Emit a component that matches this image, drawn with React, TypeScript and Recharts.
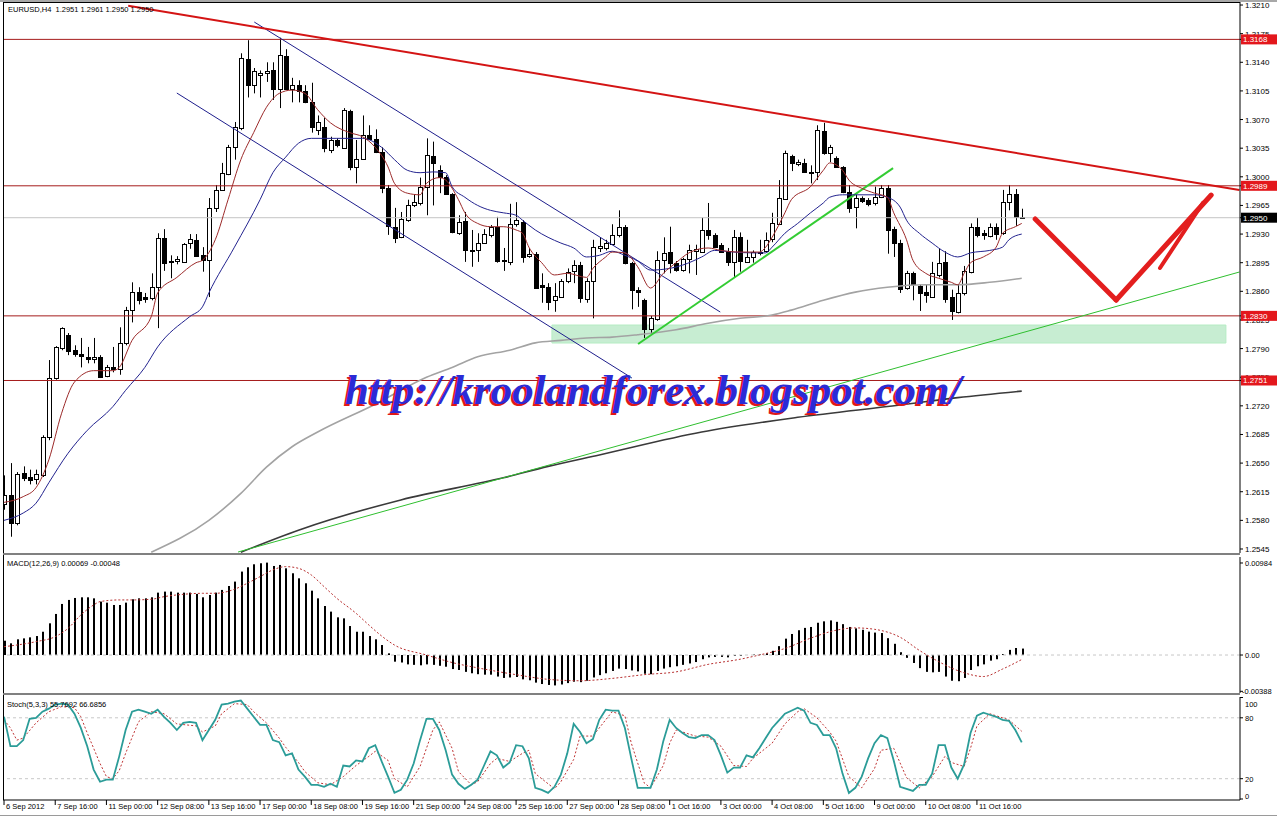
import React from "react";
import {
  ComposedChart,
  Bar,
  Line,
  XAxis,
  YAxis,
  ReferenceLine,
  ReferenceArea,
} from "recharts";

const FONT = "'Liberation Sans', Arial, sans-serif";

// bar labels on the time axis, one every 8 H4 bars
const timeLabels = [
  "6 Sep 2012", "7 Sep 16:00", "11 Sep 00:00", "12 Sep 08:00", "13 Sep 16:00",
  "17 Sep 00:00", "18 Sep 08:00", "19 Sep 16:00", "21 Sep 00:00", "24 Sep 08:00",
  "25 Sep 16:00", "27 Sep 00:00", "28 Sep 08:00", "1 Oct 16:00", "3 Oct 00:00",
  "4 Oct 08:00", "5 Oct 16:00", "9 Oct 00:00", "10 Oct 08:00", "11 Oct 16:00",
];
const timeTickBars = [0, 8, 16, 24, 32, 40, 48, 56, 64, 72, 80, 88, 96, 104, 112, 120, 128, 136, 144, 152];

const opens = [
  1.2600, 1.2611, 1.2577, 1.2638, 1.2633, 1.2631, 1.2635, 1.2682, 1.2754, 1.2791,
  1.2807, 1.2788, 1.2783, 1.2780, 1.2778, 1.2780, 1.2756, 1.2767, 1.2765, 1.2797,
  1.2837, 1.2859, 1.2853, 1.2852, 1.2865, 1.2925, 1.2896, 1.2896, 1.2896, 1.2919,
  1.2923, 1.2904, 1.2898, 1.2962, 1.2984, 1.3003, 1.3036, 1.3060, 1.3144, 1.3112,
  1.3124, 1.3126, 1.3130, 1.3107, 1.3148, 1.3107, 1.3112, 1.3105, 1.3091, 1.3057,
  1.3061, 1.3033, 1.3045, 1.3036, 1.3080, 1.3012, 1.3022, 1.3051, 1.3046, 1.3030,
  1.2986, 1.2939, 1.2926, 1.2947, 1.2965, 1.2968, 1.2988, 1.3025, 1.3008, 1.3000,
  1.2979, 1.2932, 1.2946, 1.2910, 1.2910, 1.2919, 1.2929, 1.2939, 1.2898, 1.2895,
  1.2942, 1.2945, 1.2903, 1.2906, 1.2868, 1.2865, 1.2849, 1.2854, 1.2873, 1.2885,
  1.2892, 1.2851, 1.2873, 1.2913, 1.2913, 1.2918, 1.2929, 1.2939, 1.2895, 1.2862,
  1.2849, 1.2813, 1.2826, 1.2898, 1.2908, 1.2895, 1.2885, 1.2899, 1.2909, 1.2908,
  1.2935, 1.2929, 1.2917, 1.2909, 1.2896, 1.2926, 1.2896, 1.2902, 1.2908, 1.2910,
  1.2923, 1.2942, 1.2973, 1.3025, 1.3016, 1.3017, 1.3006, 1.3006, 1.3056, 1.3029,
  1.3023, 1.3012, 1.2981, 1.2963, 1.2974, 1.2972, 1.2968, 1.2975, 1.2986, 1.2936,
  1.2919, 1.2864, 1.2882, 1.2866, 1.2859, 1.2853, 1.2880, 1.2896, 1.2853, 1.2835,
  1.2858, 1.2884, 1.2939, 1.2931, 1.2928, 1.2939, 1.2931, 1.2969, 1.2979, 1.2951,
];
const highs = [
  1.2635, 1.2650, 1.2639, 1.2646, 1.2642, 1.2642, 1.2684, 1.2776, 1.2793, 1.2816,
  1.2809, 1.2794, 1.2803, 1.2792, 1.2803, 1.2782, 1.2770, 1.2792, 1.2816, 1.2841,
  1.2871, 1.2865, 1.2858, 1.2882, 1.2931, 1.2936, 1.2904, 1.2903, 1.2919, 1.2930,
  1.2930, 1.2914, 1.2974, 1.2990, 1.3017, 1.3039, 1.3067, 1.3151, 1.3167, 1.3133,
  1.3130, 1.3140, 1.3140, 1.3170, 1.3156, 1.3121, 1.3118, 1.3112, 1.3115, 1.3075,
  1.3072, 1.3049, 1.3047, 1.3084, 1.3082, 1.3045, 1.3075, 1.3063, 1.3058, 1.3036,
  1.2990, 1.2962, 1.2957, 1.2972, 1.2978, 1.2999, 1.3047, 1.3043, 1.3014, 1.3002,
  1.2980, 1.2953, 1.2957, 1.2935, 1.2931, 1.2936, 1.2941, 1.2951, 1.2913, 1.2967,
  1.2969, 1.2947, 1.2913, 1.2908, 1.2882, 1.2870, 1.2870, 1.2875, 1.2888, 1.2898,
  1.2896, 1.2876, 1.2923, 1.2926, 1.2923, 1.2942, 1.2959, 1.2941, 1.2896, 1.2865,
  1.2851, 1.2830, 1.2909, 1.2926, 1.2939, 1.2897, 1.2901, 1.2917, 1.2917, 1.2950,
  1.2968, 1.2931, 1.2919, 1.2913, 1.2935, 1.2932, 1.2923, 1.2910, 1.2923, 1.2932,
  1.2956, 1.2996, 1.3032, 1.3027, 1.3021, 1.3022, 1.3014, 1.3063, 1.3066, 1.3039,
  1.3025, 1.3013, 1.2990, 1.2978, 1.2976, 1.2974, 1.2988, 1.2990, 1.2990, 1.2939,
  1.2923, 1.2885, 1.2884, 1.2868, 1.2868, 1.2896, 1.2912, 1.2909, 1.2862, 1.2868,
  1.2891, 1.2943, 1.2950, 1.2935, 1.2943, 1.2943, 1.2984, 1.2990, 1.2985, 1.2961,
];
const lows = [
  1.2593, 1.2560, 1.2574, 1.2628, 1.2624, 1.2624, 1.2633, 1.2678, 1.2752, 1.2788,
  1.2782, 1.2780, 1.2767, 1.2772, 1.2772, 1.2754, 1.2755, 1.2761, 1.2758, 1.2794,
  1.2822, 1.2844, 1.2846, 1.2849, 1.2815, 1.2885, 1.2876, 1.2893, 1.2895, 1.2912,
  1.2902, 1.2884, 1.2853, 1.2957, 1.2984, 1.3002, 1.3021, 1.3057, 1.3097, 1.3102,
  1.3097, 1.3116, 1.3094, 1.3084, 1.3106, 1.3091, 1.3091, 1.3090, 1.3054, 1.3051,
  1.3030, 1.3029, 1.3036, 1.3035, 1.3008, 1.2992, 1.3021, 1.3045, 1.3029, 1.2980,
  1.2929, 1.2919, 1.2925, 1.2945, 1.2963, 1.2965, 1.2953, 1.2965, 1.2980, 1.2978,
  1.2931, 1.2929, 1.2896, 1.2890, 1.2896, 1.2918, 1.2926, 1.2895, 1.2885, 1.2892,
  1.2939, 1.2895, 1.2901, 1.2864, 1.2846, 1.2837, 1.2835, 1.2854, 1.2870, 1.2870,
  1.2846, 1.2846, 1.2827, 1.2908, 1.2910, 1.2917, 1.2926, 1.2893, 1.2838, 1.2841,
  1.2803, 1.2807, 1.2824, 1.2882, 1.2882, 1.2884, 1.2884, 1.2882, 1.2880, 1.2907,
  1.2923, 1.2913, 1.2908, 1.2891, 1.2877, 1.2884, 1.2895, 1.2895, 1.2904, 1.2908,
  1.2920, 1.2941, 1.2972, 1.3007, 1.3013, 1.3005, 1.2992, 1.2996, 1.3027, 1.3018,
  1.3011, 1.2980, 1.2956, 1.2937, 1.2968, 1.2964, 1.2965, 1.2974, 1.2906, 1.2902,
  1.2858, 1.2862, 1.2849, 1.2836, 1.2846, 1.2852, 1.2877, 1.2846, 1.2825, 1.2833,
  1.2855, 1.2882, 1.2926, 1.2923, 1.2926, 1.2923, 1.2929, 1.2959, 1.2940, 1.2950,
];
const closes = [
  1.2611, 1.2577, 1.2637, 1.2632, 1.2629, 1.2637, 1.2682, 1.2754, 1.2792, 1.2815,
  1.2788, 1.2783, 1.2780, 1.2778, 1.2780, 1.2756, 1.2767, 1.2764, 1.2797, 1.2837,
  1.2859, 1.2849, 1.2851, 1.2865, 1.2925, 1.2895, 1.2897, 1.2899, 1.2918, 1.2924,
  1.2904, 1.2898, 1.2962, 1.2984, 1.3005, 1.3036, 1.3061, 1.3145, 1.3112, 1.3129,
  1.3127, 1.3129, 1.3107, 1.3149, 1.3108, 1.3112, 1.3105, 1.3091, 1.3060, 1.3067,
  1.3035, 1.3045, 1.3039, 1.3082, 1.3012, 1.3022, 1.3051, 1.3046, 1.3030, 1.2986,
  1.2939, 1.2926, 1.2948, 1.2965, 1.2969, 1.2988, 1.3027, 1.3017, 1.3000, 1.2979,
  1.2932, 1.2945, 1.2910, 1.2909, 1.2919, 1.2930, 1.2939, 1.2898, 1.2897, 1.2942,
  1.2947, 1.2902, 1.2906, 1.2865, 1.2865, 1.2847, 1.2854, 1.2873, 1.2884, 1.2892,
  1.2852, 1.2873, 1.2914, 1.2915, 1.2919, 1.2929, 1.2939, 1.2895, 1.2862, 1.2859,
  1.2814, 1.2827, 1.2898, 1.2907, 1.2895, 1.2886, 1.2899, 1.2910, 1.2912, 1.2935,
  1.2929, 1.2914, 1.2909, 1.2896, 1.2926, 1.2897, 1.2902, 1.2908, 1.2907, 1.2923,
  1.2943, 1.2974, 1.3029, 1.3017, 1.3018, 1.3006, 1.3005, 1.3057, 1.3029, 1.3036,
  1.3012, 1.2981, 1.2962, 1.2974, 1.2970, 1.2967, 1.2975, 1.2986, 1.2935, 1.2919,
  1.2863, 1.2882, 1.2868, 1.2858, 1.2855, 1.2882, 1.2895, 1.2851, 1.2836, 1.2858,
  1.2885, 1.2939, 1.2929, 1.2929, 1.2939, 1.2931, 1.2969, 1.2979, 1.2951, 1.2950,
];

// moving averages, read at the bars where they could be measured [bar, price]
const maFastPts: [number, number][] = [
  [0, 1.2602], [3, 1.2609], [5, 1.262], [7, 1.2654], [9, 1.2711], [11, 1.2749], [14, 1.2763],
  [17, 1.2763], [18, 1.2767], [20, 1.28], [23, 1.2829], [24, 1.2858], [27, 1.2877], [30, 1.2895],
  [31, 1.2898], [33, 1.2923], [35, 1.2972], [37, 1.3021], [39, 1.3054], [41, 1.3085], [43, 1.3102],
  [45, 1.3106], [47, 1.3102], [49, 1.3082], [51, 1.3066], [54, 1.3054], [56, 1.3049], [58, 1.3036],
  [60, 1.3012], [61, 1.2992], [63, 1.298], [65, 1.2978], [66, 1.2992], [68, 1.2999], [69, 1.2996],
  [71, 1.2972], [72, 1.2956], [74, 1.2943], [76, 1.2939], [78, 1.2939], [80, 1.2935], [81, 1.2931],
  [82, 1.2914], [84, 1.2895], [86, 1.288], [88, 1.2882], [91, 1.2877], [92, 1.2888], [94, 1.2902],
  [95, 1.2908], [97, 1.2907], [99, 1.289], [101, 1.2864], [103, 1.2882], [105, 1.2895], [107, 1.2907],
  [110, 1.2913], [112, 1.291], [115, 1.2908], [118, 1.2908], [119, 1.2914], [120, 1.2926], [122, 1.2956],
  [123, 1.2972], [126, 1.2988], [128, 1.3008], [129, 1.3017], [131, 1.3008], [132, 1.2996], [134, 1.2986],
  [136, 1.298], [138, 1.2975], [139, 1.2956], [141, 1.2923], [142, 1.2898], [144, 1.2882], [146, 1.2876],
  [148, 1.2871], [149, 1.2868], [150, 1.2882], [151, 1.2895], [153, 1.2902], [155, 1.2914], [156, 1.2931],
  [158, 1.2939], [159, 1.2943],
];
const maMidPts: [number, number][] = [
  [0, 1.258], [3, 1.2589], [5, 1.2601], [7, 1.2626], [10, 1.2662], [13, 1.269], [17, 1.2719],
  [19, 1.2739], [22, 1.2767], [24, 1.2792], [29, 1.2829], [31, 1.2841], [32, 1.2858], [36, 1.2914],
  [40, 1.2972], [42, 1.3005], [44, 1.3024], [46, 1.3041], [48, 1.3047], [52, 1.3047], [56, 1.3047],
  [59, 1.3036], [61, 1.3021], [63, 1.3008], [65, 1.3005], [67, 1.3006], [69, 1.3005], [70, 1.2988],
  [72, 1.2975], [74, 1.2965], [76, 1.2959], [78, 1.2956], [80, 1.2953], [81, 1.2947], [83, 1.2935],
  [85, 1.2926], [87, 1.2919], [89, 1.2913], [91, 1.2902], [93, 1.2904], [95, 1.2909], [97, 1.2904],
  [99, 1.2897], [101, 1.2886], [104, 1.2888], [106, 1.2892], [109, 1.2902], [111, 1.291], [114, 1.2908],
  [117, 1.2907], [119, 1.2907], [120, 1.2914], [122, 1.2931], [124, 1.2943], [126, 1.2956], [128, 1.2968],
  [129, 1.2975], [131, 1.2978], [133, 1.2978], [136, 1.2978], [138, 1.2975], [140, 1.2963], [141, 1.2947],
  [143, 1.2931], [145, 1.2919], [147, 1.2908], [149, 1.2902], [151, 1.2907], [154, 1.291], [156, 1.2914],
  [157, 1.2923], [159, 1.293],
];
const maSlowPts: [number, number][] = [
  [23, 1.2541], [32, 1.258], [37, 1.2613], [41, 1.2645], [45, 1.267], [49, 1.2688], [58, 1.2722],
  [66, 1.2755], [70, 1.2767], [74, 1.278], [79, 1.2788], [83, 1.2797], [87, 1.28], [91, 1.2803],
  [95, 1.2804], [99, 1.2807], [105, 1.2813], [110, 1.2821], [115, 1.2827], [120, 1.2831], [123, 1.2837],
  [128, 1.2849], [133, 1.2859], [138, 1.2865], [144, 1.2868], [149, 1.2868], [154, 1.2871], [159, 1.2876],
];
const maLongPts: [number, number][] = [
  [37, 1.2541], [46, 1.2568], [62, 1.2605], [78, 1.2632], [85, 1.2646], [93, 1.266], [109, 1.2688],
  [124, 1.2706], [140, 1.2721], [149, 1.273], [159, 1.2738],
];

const macdHist = [
  0.00153, 0.00125, 0.00168, 0.00178, 0.00189, 0.00203, 0.00249, 0.00339, 0.00439, 0.00546,
  0.00589, 0.0061, 0.00617, 0.00617, 0.00606, 0.00571, 0.0056, 0.00535, 0.00535, 0.0056,
  0.00596, 0.00606, 0.00606, 0.00617, 0.00667, 0.00678, 0.00678, 0.00667, 0.00667, 0.00667,
  0.00653, 0.00617, 0.00642, 0.00667, 0.00696, 0.00738, 0.00785, 0.00892, 0.00938, 0.0097,
  0.00981, 0.00988, 0.00952, 0.00963, 0.00927, 0.00874, 0.0082, 0.00767, 0.00688, 0.00606,
  0.00524, 0.00464, 0.00403, 0.00392, 0.0031, 0.00249, 0.00249, 0.00203, 0.00168, 0.00107,
  0.00018, -0.00071, -0.0008, -0.001, -0.00105, -0.0011, -0.001, -0.00105, -0.00115, -0.00125,
  -0.0015, -0.0016, -0.0018, -0.00195, -0.00205, -0.0021, -0.0021, -0.0023, -0.00245, -0.0024,
  -0.00235, -0.0026, -0.0027, -0.00295, -0.0031, -0.0032, -0.00325, -0.00315, -0.003, -0.00285,
  -0.0029, -0.00275, -0.0024, -0.00215, -0.00195, -0.0017, -0.00145, -0.0015, -0.00165, -0.00175,
  -0.002, -0.00205, -0.0017, -0.00145, -0.0013, -0.0012, -0.00105, -0.0009, -0.00075, -0.00045,
  -0.00025, -0.0002, -0.0002, -0.00025, -0.0001, -0.0001, 0.0, 0.00005, 0.00005, 0.0002,
  0.00045, 0.00095, 0.00175, 0.00225, 0.00265, 0.0029, 0.003, 0.00345, 0.0036, 0.0037,
  0.00355, 0.0033, 0.003, 0.00285, 0.0027, 0.0025, 0.0024, 0.00235, 0.0018, 0.0012,
  0.0003, -0.0003, -0.00085, -0.0014, -0.0018, -0.00185, -0.0018, -0.0023, -0.00275, -0.0028,
  -0.00245, -0.0016, -0.0012, -0.001, -0.0006, -0.00045, 0.0001, 0.00055, 0.00075, 0.00069,
];
const macdSignalPts: [number, number][] = [
  [0, 0.00089], [5, 0.00143], [8, 0.00196], [10, 0.00285], [12, 0.00428], [14, 0.00535], [15, 0.00571],
  [18, 0.00589], [20, 0.00589], [23, 0.00596], [25, 0.00624], [28, 0.00649], [31, 0.0066], [33, 0.0066],
  [36, 0.00703], [38, 0.00767], [40, 0.00838], [42, 0.0091], [44, 0.00945], [46, 0.00927], [48, 0.00856],
  [50, 0.00731], [52, 0.00606], [55, 0.00446], [57, 0.00321], [59, 0.00203], [61, 0.00107], [66, 0.0],
  [70, -0.0008], [75, -0.0015], [80, -0.0021], [85, -0.0026], [90, -0.00275], [95, -0.0025], [100, -0.0021],
  [105, -0.0018], [110, -0.001], [115, -0.00045], [118, 0.0], [122, 0.0007], [126, 0.0018], [130, 0.00265],
  [133, 0.0029], [136, 0.00275], [140, 0.0019], [143, 0.0005], [146, -0.0007], [150, -0.0019],
  [153, -0.0023], [156, -0.0015], [159, -0.00048],
];

const stochK = [
  81, 52, 52, 58, 79, 80, 86, 89, 93, 94,
  93, 84, 70, 52, 29, 17, 19, 19, 42, 68,
  86, 88, 86, 84, 88, 81, 75, 68, 75, 76,
  75, 58, 68, 78, 93, 94, 96, 97, 89, 81,
  73, 73, 58, 56, 43, 45, 29, 22, 14, 14,
  12, 15, 12, 33, 32, 38, 37, 50, 53, 37,
  22, 6, 9, 19, 35, 58, 79, 79, 68, 48,
  24, 15, 10, 14, 19, 33, 47, 43, 31, 36,
  53, 52, 40, 11, 9, 6, 12, 24, 45, 74,
  66, 55, 59, 78, 88, 87, 87, 70, 40, 11,
  11, 11, 29, 57, 78, 70, 65, 61, 60, 63,
  63, 58, 43, 26, 31, 31, 43, 41, 50, 60,
  70, 77, 84, 87, 90, 87, 75, 73, 63, 63,
  50, 25, 6, 11, 22, 40, 55, 63, 60, 38,
  12, 10, 8, 14, 14, 25, 53, 53, 31, 20,
  34, 65, 82, 85, 83, 81, 78, 77, 68, 55.77,
];
const stochDPts: [number, number][] = [
  [0, 78], [1, 70], [2, 58], [3, 60], [5, 75], [7, 86], [9, 91], [11, 90], [12, 81], [13, 65], [15, 35],
  [16, 22], [17, 20], [18, 28], [19, 45], [21, 76], [23, 86], [25, 84], [27, 74], [30, 72], [31, 66],
  [33, 72], [34, 84], [36, 94], [38, 93], [39, 86], [41, 75], [43, 60], [44, 51], [46, 36], [47, 27],
  [49, 16], [51, 14], [53, 22], [55, 33], [57, 42], [58, 47], [60, 38], [61, 20], [63, 12], [65, 32],
  [67, 68], [68, 76], [70, 50], [71, 27], [73, 14], [74, 17], [76, 35], [77, 40], [79, 37], [81, 45],
  [82, 48], [83, 25], [86, 10], [87, 17], [89, 39], [90, 62], [92, 62], [94, 78], [95, 86], [97, 82],
  [98, 55], [100, 16], [101, 11], [103, 33], [104, 55], [105, 68], [108, 62], [110, 61], [112, 52],
  [114, 33], [116, 32], [117, 40], [120, 55], [122, 74], [124, 86], [125, 89], [127, 80], [129, 66],
  [130, 57], [132, 22], [134, 11], [136, 30], [137, 48], [139, 50], [141, 21], [143, 11], [145, 22],
  [147, 42], [148, 36], [150, 32], [151, 50], [152, 72], [154, 84], [156, 80], [157, 78], [159, 66.69],
];

const priceTicks = [
  1.321, 1.3175, 1.314, 1.3105, 1.307, 1.3035, 1.3, 1.2965, 1.293, 1.2895,
  1.286, 1.2825, 1.279, 1.2755, 1.272, 1.2685, 1.265, 1.2615, 1.258, 1.2545,
];
const levelPrices = [1.3168, 1.2989, 1.283, 1.2751];
const lastPrice = 1.295;

type Row = {
  i: number;
  open: number;
  high: number;
  low: number;
  close: number;
  range: [number, number];
  macd: number;
  k: number;
  maFast: number | null;
  maMid: number | null;
  maSlow: number | null;
  maLong: number | null;
  sig: number | null;
  d: number | null;
};

const rows: Row[] = opens.map((open, i) => ({
  i,
  open,
  high: highs[i],
  low: lows[i],
  close: closes[i],
  range: [lows[i], highs[i]],
  macd: macdHist[i],
  k: stochK[i],
  maFast: null,
  maMid: null,
  maSlow: null,
  maLong: null,
  sig: null,
  d: null,
}));

function put(pts: [number, number][], key: "maFast" | "maMid" | "maSlow" | "maLong" | "sig" | "d") {
  pts.forEach(([i, v]) => {
    rows[i][key] = v;
  });
}
put(maFastPts, "maFast");
put(maMidPts, "maMid");
put(maSlowPts, "maSlow");
put(maLongPts, "maLong");
put(macdSignalPts, "sig");
put(stochDPts, "d");

const X_DOMAIN: [number, number] = [-0.16, 193.1];

function Candle(props: any) {
  const { x, y, width, height, payload } = props;
  if (x == null || !payload) return null;
  const { open, close, high, low } = payload as Row;
  const top = Math.min(y, y + height);
  const h = Math.abs(height);
  const k = high > low ? h / (high - low) : 0;
  const cx = Math.round(x + width / 2);
  const bodyTop = top + (high - Math.max(open, close)) * k;
  const bodyBot = top + (high - Math.min(open, close)) * k;
  const up = close >= open;
  return (
    <g>
      <line x1={cx + 0.5} x2={cx + 0.5} y1={top} y2={top + h} stroke="#000" strokeWidth={1} />
      <rect
        x={cx - 1.5}
        y={Math.round(bodyTop) + 0.5}
        width={4}
        height={Math.max(Math.round(bodyBot - bodyTop), 1)}
        fill={up ? "#fff" : "#000"}
        stroke="#000"
        strokeWidth={1}
      />
    </g>
  );
}

function HistBar(props: any) {
  const { x, y, width, height } = props;
  if (x == null || !height) return null;
  const cx = Math.round(x + width / 2);
  const top = Math.min(y, y + height);
  return <rect x={cx} y={top} width={2} height={Math.abs(height)} fill="#000" />;
}

function PriceTick(props: any) {
  const { x, y, payload } = props;
  const v = payload.value as number;
  const level = levelPrices.includes(v);
  const last = v === lastPrice;
  if (level || last) {
    return (
      <g>
        <rect x={x - 4} y={y - 5} width={36} height={10} fill={last ? "#000" : "#e3171c"} />
        <text x={x - 2} y={y + 3} fontSize={8} fill="#fff" fontFamily={FONT}>
          {v.toFixed(4)}
        </text>
      </g>
    );
  }
  return (
    <text x={x} y={y + 3} fontSize={8} fill="#000" fontFamily={FONT}>
      {v.toFixed(4)}
    </text>
  );
}

function MacdTick(props: any) {
  const { x, y, payload } = props;
  const v = payload.value as number;
  const label = v === 0 ? "0.00" : v.toFixed(5);
  return (
    <text x={v < 0 ? x - 3 : x} y={y + 3} fontSize={7.5} fill="#000" fontFamily={FONT}>
      {label}
    </text>
  );
}

function StochTick(props: any) {
  const { x, y, payload } = props;
  const v = payload.value as number;
  const dy = v === 100 ? 9 : v === 0 ? 0 : 3;
  return (
    <text x={x} y={y + dy} fontSize={7.5} fill="#000" fontFamily={FONT}>
      {v}
    </text>
  );
}

function TimeTick(props: any) {
  const { x, y, payload } = props;
  const n = timeTickBars.indexOf(payload.value);
  return (
    <text x={x + 2} y={y + 3} fontSize={7.5} fill="#000" fontFamily={FONT}>
      {timeLabels[n]}
    </text>
  );
}

const abs = (top: number, left: number, extra: React.CSSProperties = {}): React.CSSProperties => ({
  position: "absolute",
  top,
  left,
  ...extra,
});

export default function App() {
  return (
    <div style={{ position: "relative", width: 1277, height: 818, background: "#fff", overflow: "hidden", fontFamily: FONT }}>
      <style>{`body{margin:0}`}</style>

      {/* price pane */}
      <div style={abs(0, 0)}>
        <ComposedChart width={1277} height={556} data={rows} margin={{ top: 2, right: 0, bottom: 3, left: 3 }}>
          <XAxis dataKey="i" type="number" domain={X_DOMAIN} allowDataOverflow hide height={0} />
          <YAxis
            orientation="right"
            width={37}
            domain={[1.25401, 1.32137]}
            allowDataOverflow
            ticks={[...priceTicks, ...levelPrices, lastPrice]}
            interval={0}
            tickSize={3}
            tickMargin={2}
            axisLine={{ stroke: "#000" }}
            tickLine={{ stroke: "#000" }}
            tick={<PriceTick />}
          />
          <ReferenceArea
            x1={85.6}
            x2={190.9}
            y1={1.27968}
            y2={1.28188}
            fill="#8fdca6"
            fillOpacity={0.5}
            stroke="#b5ecc4"
            ifOverflow="hidden"
          />
          {levelPrices.map((p) => (
            <ReferenceLine key={p} y={p} stroke="#a51c1c" strokeWidth={1} />
          ))}
          <ReferenceLine y={lastPrice} stroke="#c4c4c4" strokeWidth={1} />
          <Line dataKey="maSlow" stroke="#a3a3a3" strokeWidth={1.6} dot={false} activeDot={false} connectNulls type="monotone" isAnimationActive={false} />
          <Line dataKey="maLong" stroke="#3a3a3a" strokeWidth={1.6} dot={false} activeDot={false} connectNulls type="monotone" isAnimationActive={false} />
          <ReferenceLine segment={[{ x: 36.56, y: 1.25413 }, { x: 193.0, y: 1.28836 }]} stroke="#2fbf2f" strokeWidth={1} ifOverflow="hidden" />
          <ReferenceLine segment={[{ x: 39.1, y: 1.31892 }, { x: 111.9, y: 1.28347 }]} stroke="#1e1e8c" strokeWidth={1} ifOverflow="hidden" />
          <ReferenceLine segment={[{ x: 27.0, y: 1.31024 }, { x: 98.1, y: 1.2754 }]} stroke="#1e1e8c" strokeWidth={1} ifOverflow="hidden" />
          <ReferenceLine segment={[{ x: 99.06, y: 1.27956 }, { x: 138.9, y: 1.30107 }]} stroke="#33cc33" strokeWidth={2} ifOverflow="hidden" />
          <Line dataKey="maMid" stroke="#23238f" strokeWidth={1} dot={false} activeDot={false} connectNulls type="monotone" isAnimationActive={false} />
          <Line dataKey="maFast" stroke="#9c2a2a" strokeWidth={1} dot={false} activeDot={false} connectNulls type="monotone" isAnimationActive={false} />
          <Bar dataKey="range" barSize={5} shape={<Candle />} isAnimationActive={false} />
          <ReferenceLine segment={[{ x: 19.4, y: 1.3209 }, { x: 193.0, y: 1.29838 }]} stroke="#d41414" strokeWidth={2} ifOverflow="hidden" />
          <ReferenceLine segment={[{ x: 161.1, y: 1.29484 }, { x: 173.75, y: 1.28494 }]} stroke="#e31e1e" strokeWidth={5} strokeLinecap="round" ifOverflow="hidden" />
          <ReferenceLine segment={[{ x: 173.75, y: 1.28494 }, { x: 188.6, y: 1.29777 }]} stroke="#e31e1e" strokeWidth={5} strokeLinecap="round" ifOverflow="hidden" />
          <ReferenceLine segment={[{ x: 180.6, y: 1.28885 }, { x: 187.3, y: 1.2968 }]} stroke="#e31e1e" strokeWidth={4} strokeLinecap="round" ifOverflow="hidden" />
        </ComposedChart>
      </div>

      {/* MACD pane */}
      <div style={abs(554, 0)}>
        <ComposedChart width={1277} height={142} data={rows} margin={{ top: 3, right: 0, bottom: 3, left: 3 }}>
          <XAxis dataKey="i" type="number" domain={X_DOMAIN} allowDataOverflow hide height={0} />
          <YAxis
            orientation="right"
            width={37}
            domain={[-0.00406, 0.01048]}
            allowDataOverflow
            ticks={[0.00984, 0, -0.00388]}
            interval={0}
            tickSize={3}
            tickMargin={2}
            axisLine={{ stroke: "#000" }}
            tickLine={{ stroke: "#000" }}
            tick={<MacdTick />}
          />
          <ReferenceLine y={0} stroke="#c8c8c8" strokeDasharray="3 3" />
          <Bar dataKey="macd" barSize={2} shape={<HistBar />} isAnimationActive={false} />
          <Line dataKey="sig" stroke="#b83030" strokeWidth={1} strokeDasharray="2 2" dot={false} activeDot={false} connectNulls type="monotone" isAnimationActive={false} />
        </ComposedChart>
      </div>

      {/* Stochastic pane */}
      <div style={abs(695, 0)}>
        <ComposedChart width={1277} height={123} data={rows} margin={{ top: 2, right: 0, bottom: 0, left: 3 }}>
          <XAxis
            dataKey="i"
            type="number"
            domain={X_DOMAIN}
            allowDataOverflow
            ticks={timeTickBars}
            interval={0}
            height={18}
            tickSize={5}
            tickMargin={1}
            axisLine={{ stroke: "#000" }}
            tickLine={{ stroke: "#000" }}
            tick={<TimeTick />}
          />
          <YAxis
            orientation="right"
            width={37}
            domain={[-1, 100.5]}
            allowDataOverflow
            ticks={[100, 80, 20, 0]}
            interval={0}
            tickSize={3}
            tickMargin={2}
            axisLine={{ stroke: "#000" }}
            tickLine={{ stroke: "#000" }}
            tick={<StochTick />}
          />
          <ReferenceLine y={80} stroke="#c8c8c8" strokeDasharray="3 3" />
          <ReferenceLine y={20} stroke="#c8c8c8" strokeDasharray="3 3" />
          <Line dataKey="d" stroke="#c03535" strokeWidth={1} strokeDasharray="2 2" dot={false} activeDot={false} connectNulls type="linear" isAnimationActive={false} />
          <Line dataKey="k" stroke="#2b9c98" strokeWidth={1.8} dot={false} activeDot={false} type="linear" isAnimationActive={false} />
        </ComposedChart>
      </div>

      {/* frame and pane separators */}
      <div style={abs(0, 0, { width: 1277, height: 2, background: "#a8a8a8" })} />
      <div style={abs(2, 3, { width: 1237, height: 1, background: "#000" })} />
      <div style={abs(2, 3, { width: 1, height: 798, background: "#000" })} />
      <div style={abs(553, 3, { width: 1237, height: 2, background: "#808080" })} />
      <div style={abs(693, 3, { width: 1237, height: 2, background: "#808080" })} />
      <div style={abs(815, 0, { width: 1277, height: 1, background: "#9a9a9a" })} />

      {/* texts */}
      <div style={abs(5, 8, { fontSize: 7.5, whiteSpace: "pre", lineHeight: "10px" })}>
        {"EURUSD,H4  1.2951 1.2961 1.2950 1.2950"}
      </div>
      <div style={abs(559, 7, { fontSize: 7.5, whiteSpace: "pre", lineHeight: "10px" })}>
        {"MACD(12,26,9) 0.00069 -0.00048"}
      </div>
      <div style={abs(700, 7, { fontSize: 7.5, whiteSpace: "pre", lineHeight: "10px" })}>
        {"Stoch(5,3,3) 55.7692 66.6856"}
      </div>
      <div
        style={abs(367, 345, {
          fontFamily: "'Liberation Serif', 'Times New Roman', serif",
          fontSize: 43,
          fontWeight: "bold",
          fontStyle: "italic",
          lineHeight: "46px",
          color: "#2b2bd6",
          textShadow: "-2px 2px 0 #e01818",
          whiteSpace: "nowrap",
        })}
      >
        http://kroolandforex.blogspot.com/
      </div>
    </div>
  );
}
